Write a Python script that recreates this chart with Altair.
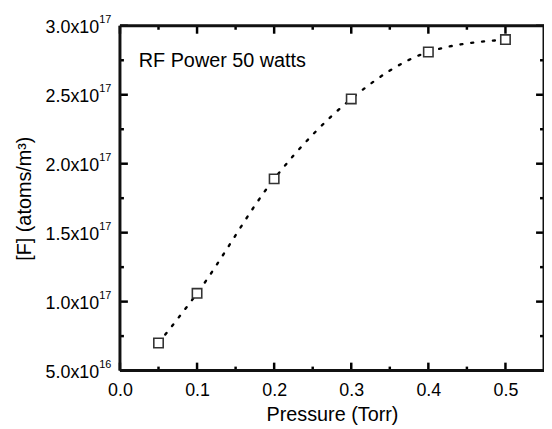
import altair as alt
import pandas as pd

# data
pressure = [0.05, 0.1, 0.2, 0.3, 0.4, 0.5]
fluorine = [7.0e16, 1.06e17, 1.89e17, 2.47e17, 2.81e17, 2.90e17]

x_major = [0.0, 0.1, 0.2, 0.3, 0.4, 0.5]
x_minor = [0.05, 0.15, 0.25, 0.35, 0.45]
y_major = [5e16, 1e17, 1.5e17, 2e17, 2.5e17, 3e17]
y_mantissa = ["5.0x10", "1.0x10", "1.5x10", "2.0x10", "2.5x10", "3.0x10"]
y_exponent = ["16", "17", "17", "17", "17", "17"]
y_minor = [7.5e16, 1.25e17, 1.75e17, 2.25e17, 2.75e17]
x_range = [0.0, 0.55]
y_range = [5e16, 3e17]
annotation = ["RF Power 50 watts"]

W, H = 428, 348
FONT = "Liberation Sans"

xs = alt.Scale(domain=x_range, nice=False, zero=False)
ys = alt.Scale(domain=y_range, nice=False, zero=False)

xaxis = alt.Axis(values=x_major, format=".1f", ticks=False, domain=False, grid=False,
                 labelFont=FONT, labelFontSize=18, labelColor="black", labelPadding=11,
                 labelFlush=False,
                 title="Pressure (Torr)", titleFont=FONT, titleFontSize=20,
                 titleFontWeight="normal", titleColor="black", titlePadding=5)
yaxis = alt.Axis(labels=False, ticks=False, domain=False, grid=False,
                 title="[F] (atoms/m³)", titleFont=FONT, titleFontSize=20,
                 titleFontWeight="normal", titleColor="black", titlePadding=86)

df = pd.DataFrame({"x": pressure, "y": fluorine})

line = alt.Chart(df).mark_line(interpolate="monotone", strokeDash=[2, 9], strokeWidth=2.4,
                               strokeCap="round", color="black").encode(
    x=alt.X("x:Q", scale=xs, axis=xaxis), y=alt.Y("y:Q", scale=ys, axis=yaxis))

pts = alt.Chart(df).mark_square(size=90, fill="white", stroke="#333333", strokeWidth=1.6,
                                opacity=1).encode(
    x=alt.X("x:Q", scale=xs, axis=xaxis), y=alt.Y("y:Q", scale=ys, axis=yaxis))

dxM = pd.DataFrame({"x": x_major})
dxm = pd.DataFrame({"x": x_minor})
dyM = pd.DataFrame({"y": y_major})
dym = pd.DataFrame({"y": y_minor})

def xticks(d, length):
    b = alt.Chart(d).mark_rule(strokeWidth=2.5, color="black").encode(
        x=alt.X("x:Q", scale=xs, axis=xaxis), y=alt.value(H), y2=alt.value(H - length))
    t = alt.Chart(d).mark_rule(strokeWidth=2.5, color="black").encode(
        x=alt.X("x:Q", scale=xs, axis=xaxis), y=alt.value(0), y2=alt.value(length))
    return [b, t]

def yticks(d, length):
    l = alt.Chart(d).mark_rule(strokeWidth=2.5, color="black").encode(
        y=alt.Y("y:Q", scale=ys, axis=yaxis), x=alt.value(0), x2=alt.value(length))
    r = alt.Chart(d).mark_rule(strokeWidth=2.5, color="black").encode(
        y=alt.Y("y:Q", scale=ys, axis=yaxis), x=alt.value(W), x2=alt.value(W - length))
    return [l, r]

# frame edges drawn at the axis range ends through the scales
xe = pd.DataFrame({"x": x_range})
ye = pd.DataFrame({"y": y_range})
frame = [
    alt.Chart(xe).mark_rule(strokeWidth=3, color="#111111").encode(
        x=alt.X("x:Q", scale=xs, axis=xaxis), y=alt.value(0), y2=alt.value(H)),
    alt.Chart(ye).mark_rule(strokeWidth=3, color="#111111").encode(
        y=alt.Y("y:Q", scale=ys, axis=yaxis), x=alt.value(0), x2=alt.value(W)),
]

ylab = pd.DataFrame({"y": y_major, "mant": y_mantissa, "expo": y_exponent})
mant = alt.Chart(ylab).mark_text(align="right", baseline="middle", font=FONT, fontSize=18,
                                 color="black", dy=2).encode(
    y=alt.Y("y:Q", scale=ys, axis=yaxis), x=alt.value(-21), text="mant:N")
expo = alt.Chart(ylab).mark_text(align="left", baseline="middle", font=FONT, fontSize=11,
                                 color="black", dy=-6).encode(
    y=alt.Y("y:Q", scale=ys, axis=yaxis), x=alt.value(-21), text="expo:N")

ann = alt.Chart(pd.DataFrame({"t": annotation})).mark_text(
    align="left", baseline="alphabetic", font=FONT, fontSize=20, color="black").encode(
    x=alt.value(19), y=alt.value(42), text="t:N")

layers = [line] + xticks(dxM, 8) + xticks(dxm, 4) + yticks(dyM, 8) + yticks(dym, 4) + \
         frame + [pts, mant, expo, ann]

chart = alt.layer(*layers).properties(
    width=W, height=H,
    background="white",
    padding={"left": 113, "top": 16, "right": 0, "bottom": 55},
    autosize=alt.AutoSizeParams(type="none"),
).configure_view(stroke=None)

chart.save("out.html", embed_options={"renderer": "svg", "actions": False})
